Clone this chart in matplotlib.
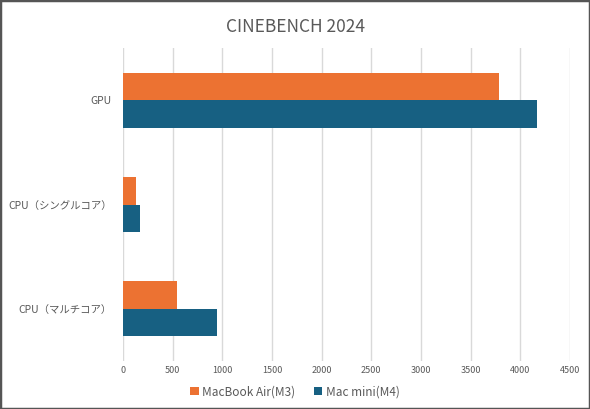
import numpy as np
import matplotlib.pyplot as plt
from matplotlib.patches import Rectangle

plt.rcParams['font.family'] = ['Noto Sans CJK JP', 'DejaVu Sans']

categories = ["GPU", "CPU（シングルコア）", "CPU（マルチコア）"]
series_names = ["MacBook Air(M3)", "Mac mini(M4)"]
air_m3 = [3784, 132, 548]
mini_m4 = [4165, 169, 943]
xticks = [0, 500, 1000, 1500, 2000, 2500, 3000, 3500, 4000, 4500]

orange = "#EC7232"
blue = "#176082"
text_gray = "#595959"

fig = plt.figure(figsize=(5.9, 4.09), dpi=100)
ax = fig.add_axes([0.2085, 0.118, 0.7575, 0.764])

y = np.arange(len(categories))
h = 0.262
ax.barh(y - h / 2, air_m3, height=h, color=orange, label=series_names[0])
ax.barh(y + h / 2, mini_m4, height=h, color=blue, label=series_names[1])

ax.set_ylim(len(categories) - 0.5, -0.5)
ax.set_xlim(0, 4500)
ax.set_xticks(xticks)
ax.set_xticklabels([str(t) for t in xticks])
ax.set_yticks(y)
ax.set_yticklabels(categories)
ax.tick_params(axis='x', length=0, labelsize=6.5, colors=text_gray, pad=4)
ax.tick_params(axis='y', length=0, labelsize=7.5, colors=text_gray, pad=8)
ax.grid(axis='x', color="#D9D9D9", linewidth=1)
ax.set_axisbelow(True)
for s in ax.spines.values():
    s.set_visible(False)

fig.suptitle("CINEBENCH 2024", x=0.5, y=0.955, fontsize=12.5, color=text_gray)

fig.legend(loc='center', bbox_to_anchor=(0.5, 0.042), ncol=2, frameon=False,
           fontsize=8.5, handlelength=0.7, handleheight=0.7, handletextpad=0.3,
           columnspacing=1.6, labelcolor=text_gray)

fig.add_artist(Rectangle((0, 0), 1, 1, transform=fig.transFigure, fill=False,
                         edgecolor="#555555", linewidth=2.5))

fig.savefig("out.png", dpi=100)
